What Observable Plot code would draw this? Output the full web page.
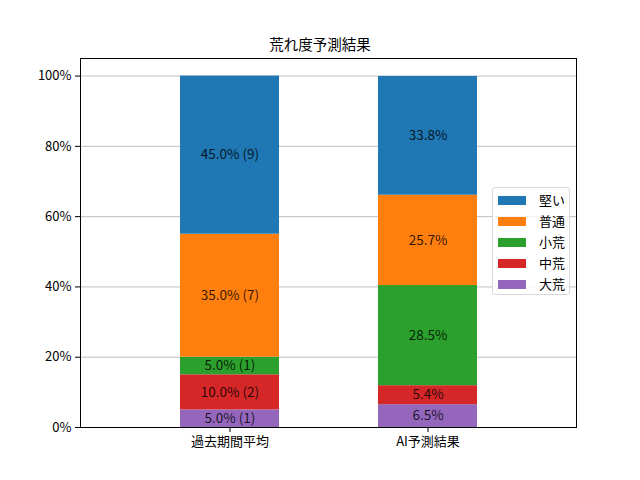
<!DOCTYPE html>
<html><head><meta charset="utf-8">
<script src="https://cdn.jsdelivr.net/npm/d3@7"></script>
<script src="https://cdn.jsdelivr.net/npm/@observablehq/plot@0.6"></script>
<style>
body{margin:0;background:#fff;font-family:"Noto Sans CJK JP",sans-serif;}
#wrap{position:relative;width:640px;height:480px;}
#title{height:18px;line-height:18px;padding-top:35px;text-align:center;font-size:14.5px;color:#000;}
#legend{position:absolute;left:492px;top:187px;width:78px;height:108px;border:1px solid #d9d9d9;border-radius:3px;background:rgba(255,255,255,0.8);box-sizing:border-box;font-size:13px;}
.item{position:absolute;left:5px;height:18px;line-height:18px;}
.sw{position:absolute;left:0;top:5px;width:28px;height:9px;}
.lb{position:absolute;left:41px;top:0;white-space:nowrap;}
</style></head>
<body><div id="wrap"><div id="title">荒れ度予測結果</div><div id="chart"></div><div id="legend"></div></div>
<script>
const categories = ["過去期間平均", "AI予測結果"];
const levels = ["大荒", "中荒", "小荒", "普通", "堅い"];
const colors = ["#9467bd", "#d62728", "#2ca02c", "#ff7f0e", "#1f77b4"];
const pastValues = [5.0, 10.0, 5.0, 35.0, 45.0];
const pastCounts = [1, 2, 1, 7, 9];
const aiValues = [6.5, 5.4, 28.5, 25.7, 33.8];
const yTicks = [0, 20, 40, 60, 80, 100];
const legendOrder = ["堅い", "普通", "小荒", "中荒", "大荒"];

const rows = [];
levels.forEach((lv, i) => rows.push({cat: categories[0], level: lv, value: pastValues[i], label: pastValues[i].toFixed(1) + "% (" + pastCounts[i] + ")"}));
levels.forEach((lv, i) => rows.push({cat: categories[1], level: lv, value: aiValues[i], label: aiValues[i].toFixed(1) + "%"}));

const chart = Plot.plot({
  width: 640, height: 427,
  marginTop: 5, marginBottom: 53, marginLeft: 80, marginRight: 64,
  style: {fontFamily: '"Noto Sans CJK JP", sans-serif', fontSize: "13px", color: "#000", background: "#fff"},
  x: {domain: categories, paddingInner: 0.5, paddingOuter: 0.5, label: null, tickSize: 5, tickPadding: 4},
  y: {domain: [0, 105], ticks: yTicks, tickFormat: d => d + "%", label: null, tickSize: 5, tickPadding: 4},
  color: {domain: levels, range: colors},
  marks: [
    Plot.gridY(yTicks, {stroke: "#b0b0b0", strokeOpacity: 1, strokeWidth: 0.8}),
    Plot.barY(rows, {x: "cat", y: "value", fill: "level", order: levels}),
    Plot.text(rows, Plot.stackY({x: "cat", y: "value", z: "level", order: levels, text: "label", fill: "#000", fillOpacity: 0.82, fontSize: 13.5})),
    Plot.frame({stroke: "#000", strokeWidth: 1})
  ]
});
document.getElementById("chart").appendChild(chart);

const leg = document.getElementById("legend");
legendOrder.forEach((lv, i) => {
  const it = document.createElement("div");
  it.className = "item";
  it.style.top = (3 + i * 21) + "px";
  const sw = document.createElement("div");
  sw.className = "sw";
  sw.style.background = colors[levels.indexOf(lv)];
  const lb = document.createElement("div");
  lb.className = "lb";
  lb.textContent = lv;
  it.appendChild(sw); it.appendChild(lb);
  leg.appendChild(it);
});
</script></body></html>
